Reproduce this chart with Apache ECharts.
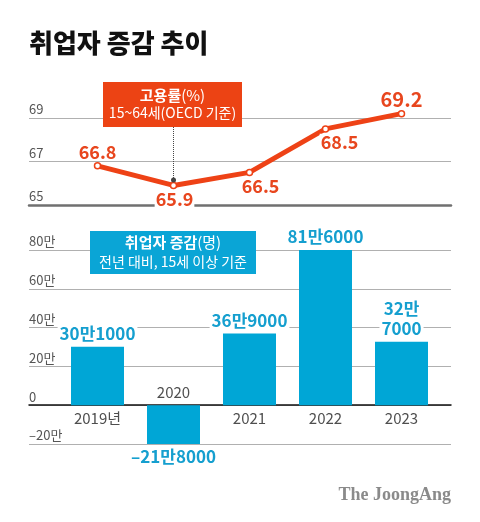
<!DOCTYPE html>
<html><head><meta charset="utf-8">
<script src="https://cdn.jsdelivr.net/npm/echarts@6/dist/echarts.min.js"></script>
<style>html,body{margin:0;padding:0;background:#fff}#c{width:480px;height:522px}</style>
</head><body><div id="c"></div>
<script>
// ---- data ----
const years = ['2019년', '2020', '2021', '2022', '2023'];
const employmentRate = [66.8, 65.9, 66.5, 68.5, 69.2];          // %
const jobChange = [30.1, -21.8, 36.9, 81.6, 32.7];              // 만 명
const rateTicks = [65, 67, 69];
const changeTicks = [-20, 0, 20, 40, 60, 80];

// ---- styles ----
const F = "'Noto Sans CJK KR', 'Noto Sans', sans-serif";
const RED = '#ee4216', RED_TXT = '#e8461e';
const BLUE = '#00a6d6', BLUE_TXT = '#159fcf';
const linePos = ['top', 'bottom', 'bottom', 'bottom', 'top'];
const lineOff = [[0,0],[1,0],[11,0],[14,0],[0,0]];
const lineSize = [18, 18, 18, 18, 20];
const breakLabel = [false, false, false, false, true];

function manFmt(v, br) {
  const n = Math.round(Math.abs(v) * 10000);
  const man = Math.floor(n / 10000), rest = n % 10000;
  return (v < 0 ? '–' : '') + man + '만' + (br ? '\n' : '') + (rest ? rest : '');
}

const chart = echarts.init(document.getElementById('c'), null, {renderer: 'canvas'});
const axisLbl = {inside: true, verticalAlign: 'bottom', margin: 0, padding: [0,0,2,0],
  color: '#555', fontSize: 13, fontFamily: F, showMinLabel: true, showMaxLabel: true};

chart.setOption({
  animation: false,
  grid: [
    {left: 29, width: 422, top: 118, height: 87},
    {left: 59.5, width: 380, top: 118, height: 87},
    {left: 29, width: 422, top: 250, height: 194},
    {left: 59.5, width: 380, top: 250, height: 194}
  ],
  xAxis: [
    {gridIndex: 0, type: 'value', min: 0, max: 1, z: 3, axisLabel: {show: false}, axisTick: {show: false},
      splitLine: {show: false}, axisLine: {show: true, onZero: false, lineStyle: {color: '#707070', width: 2.5}}},
    {gridIndex: 1, type: 'category', data: years, show: false},
    {gridIndex: 2, type: 'value', min: 0, max: 1, z: 3, axisLabel: {show: false}, axisTick: {show: false},
      splitLine: {show: false}, axisLine: {show: true, onZero: true, lineStyle: {color: '#111', width: 1.5}}},
    {gridIndex: 3, type: 'category', data: years, show: false}
  ],
  yAxis: [
    {gridIndex: 0, type: 'value', min: rateTicks[0], max: rateTicks[rateTicks.length-1], interval: rateTicks[1]-rateTicks[0],
      axisLine: {show: false}, axisTick: {show: false},
      splitLine: {show: true, lineStyle: {color: '#b0b0b0', width: 1}}, axisLabel: axisLbl},
    {gridIndex: 1, type: 'value', min: rateTicks[0], max: rateTicks[rateTicks.length-1], show: false},
    {gridIndex: 2, type: 'value', min: changeTicks[0], max: changeTicks[changeTicks.length-1], interval: changeTicks[1]-changeTicks[0],
      axisLine: {show: false}, axisTick: {show: false},
      splitLine: {show: true, lineStyle: {color: '#b0b0b0', width: 1}},
      axisLabel: Object.assign({}, axisLbl, {formatter: v => v === 0 ? '0' : (v < 0 ? '–' : '') + Math.abs(v) + '만'})},
    {gridIndex: 3, type: 'value', min: changeTicks[0], max: changeTicks[changeTicks.length-1], show: false}
  ],
  series: [
    {
      type: 'line', xAxisIndex: 1, yAxisIndex: 1, clip: false, z: 4,
      data: employmentRate.map((v, i) => ({value: v, label: {position: linePos[i], offset: lineOff[i], fontSize: lineSize[i]}})),
      lineStyle: {color: RED, width: 5},
      symbol: 'circle', symbolSize: 6,
      itemStyle: {color: '#fff', borderColor: RED, borderWidth: 1.5},
      label: {show: true, color: RED_TXT, fontFamily: F, fontWeight: 'bold', distance: 1, lineHeight: 18,
        backgroundColor: '#fff', padding: [0, 1]},
      markLine: {
        silent: true, animation: false, label: {show: false},
        lineStyle: {color: '#444', type: 'dotted', width: 1},
        data: [[{coord: [1, 66.15], symbol: 'circle', symbolSize: 5}, {coord: [1, 68.6], symbol: 'none'}]]
      }
    },
    {
      type: 'bar', xAxisIndex: 3, yAxisIndex: 3, barWidth: 53, z: 3,
      itemStyle: {color: BLUE},
      data: jobChange.map((v, i) => ({value: v, label: {position: v < 0 ? 'bottom' : 'top'}})),
      label: {show: true, color: BLUE_TXT, fontFamily: F, fontWeight: 'bold', fontSize: 17, lineHeight: 20,
        backgroundColor: '#fff', padding: [0, 2], distance: 3,
        formatter: p => manFmt(p.value, breakLabel[p.dataIndex])}
    },
    {
      type: 'scatter', xAxisIndex: 3, yAxisIndex: 3, silent: true, symbolSize: 1, z: 5,
      itemStyle: {color: 'rgba(0,0,0,0)'},
      data: jobChange.map(v => ({value: 0, label: {position: v < 0 ? 'top' : 'bottom'}})),
      label: {show: true, color: '#222', fontFamily: F, fontSize: 15, distance: 5,
        formatter: p => years[p.dataIndex]}
    }
  ],
  graphic: [
    {type: 'text', x: 29, y: 43, z: 10, style: {text: '취업자 증감 추이', fill: '#111', fontSize: 26, fontWeight: 900,
      fontFamily: F, align: 'left', verticalAlign: 'middle'}},
    {type: 'rect', z: 10, shape: {x: 103, y: 82, width: 139, height: 45}, style: {fill: '#ec4314'}},
    {type: 'text', x: 172.5, y: 95, z: 11, style: {text: '{b|고용률}{r|(%)}', fill: '#fff', fontFamily: F, fontSize: 15,
      align: 'center', verticalAlign: 'middle',
      rich: {b: {fontWeight: 'bold', fontSize: 15, fill: '#fff', fontFamily: F}, r: {fontSize: 15, fill: '#fff', fontFamily: F}}}},
    {type: 'text', x: 172.5, y: 113, z: 11, style: {text: '15~64세(OECD 기준)', fill: '#fff', fontFamily: F, fontSize: 14,
      align: 'center', verticalAlign: 'middle'}},
    {type: 'rect', z: 10, shape: {x: 90, y: 231, width: 166, height: 43}, style: {fill: '#0aa5d6'}},
    {type: 'text', x: 173, y: 242, z: 11, style: {text: '{b|취업자 증감}{r|(명)}', fill: '#fff', fontFamily: F, fontSize: 15,
      align: 'center', verticalAlign: 'middle',
      rich: {b: {fontWeight: 'bold', fontSize: 15, fill: '#fff', fontFamily: F}, r: {fontSize: 15, fill: '#fff', fontFamily: F}}}},
    {type: 'text', x: 173, y: 262, z: 11, style: {text: '전년 대비, 15세 이상 기준', fill: '#fff', fontFamily: F, fontSize: 14,
      align: 'center', verticalAlign: 'middle'}},
    {type: 'text', x: 451, y: 495, z: 10, style: {text: 'The JoongAng', fill: '#8a8a8a', fontFamily: "'Liberation Serif', 'DejaVu Serif', serif",
      fontSize: 18, fontWeight: 'bold', align: 'right', verticalAlign: 'middle'}}
  ]
});
</script></body></html>
